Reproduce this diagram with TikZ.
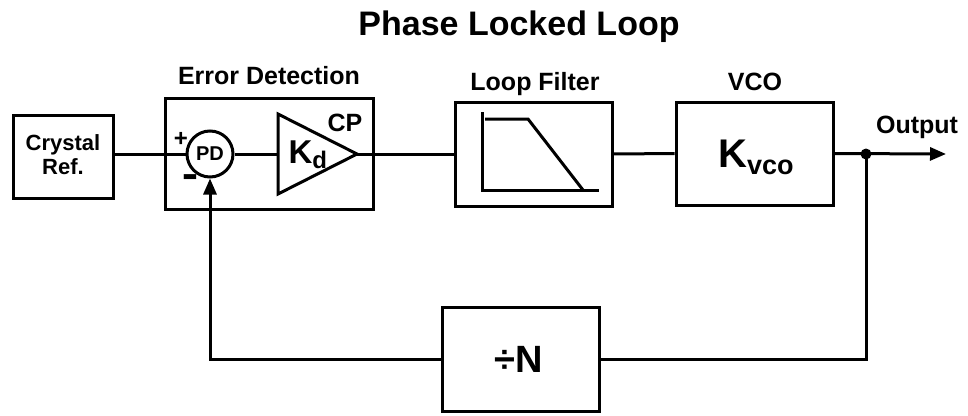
\documentclass[tikz,border=0pt]{standalone}
\usepackage{fontspec}
\setmainfont{Liberation Sans}
\usetikzlibrary{arrows.meta}
\newcommand{\fs}[1]{\fontsize{#1}{#1}\selectfont}
\begin{document}
\begin{tikzpicture}[x=1pt,y=-1pt,
  line width=3pt,
  blk/.style={draw,rectangle,inner sep=0pt,line width=3pt},
  lbl/.style={inner sep=0pt,font=\bfseries\fs{25}},
  wire/.style={draw,line width=3pt},
  arr/.style={-{Triangle[length=16pt,width=13pt]}}
]
\useasboundingbox (0,0) rectangle (968,415);
% title
\node[inner sep=0pt,anchor=base,font=\bfseries\fs{34}] (title) at (519,35) {Phase Locked Loop};
% blocks
\node[blk,minimum width=100pt,minimum height=83pt] (cr) at (63,156.5) {};
\node[inner sep=0pt,anchor=base,font=\bfseries\fs{22}] (crt1) at (63,150) {Crystal};
\node[inner sep=0pt,anchor=base,font=\bfseries\fs{22}] (crt2) at (63,174) {Ref.};
\node[blk,minimum width=208pt,minimum height=111pt] (ed) at (269,153.5) {};
\node[lbl,anchor=base] (edl) at (269,84) {Error Detection};
\node[blk,circle,minimum size=46pt,font=\bfseries\fs{20}] (pd) at (210,154) {PD};
\node[inner sep=0pt,font=\bfseries\fs{24}] (plus) at (181,139) {+};
\node[inner sep=0pt,font=\bfseries\fs{25}] (minus) at (190,183) {\scalebox{1}[2]{\textendash}};
% amplifier
\coordinate (ampin) at (278,154);
\coordinate (ampout) at (357,154);
\draw[line width=3pt,line join=miter] (278,114) -- (ampout) -- (278,194) -- cycle;
\node[inner sep=0pt,anchor=base west,font=\bfseries\fs{33}] (kd) at (287,163) {K\raisebox{-5pt}{\fs{24}d}};
\node[inner sep=0pt,anchor=base,font=\bfseries\fs{25}] (cp) at (345,131) {CP};
% loop filter
\node[blk,minimum width=157pt,minimum height=104pt] (lf) at (533.5,154) {};
\node[lbl,anchor=base] (lfl) at (535,90) {Loop Filter};
\draw[line width=3pt] (482,112) -- (482,190) -- (599,190);
\draw[line width=3pt] (485,119) -- (528,119) -- (583,190);
% VCO
\node[blk,minimum width=157pt,minimum height=103pt] (vco) at (754.5,153.5) {};
\node[lbl,anchor=base] (vcol) at (755,90) {VCO};
\node[inner sep=0pt,anchor=base,font=\bfseries\fs{40}] (kv) at (756,167) {K\raisebox{-7pt}{\fs{27}vco}};
% divider
\node[blk,minimum width=157pt,minimum height=104pt] (div) at (520.5,359) {};
\node[inner sep=0pt,anchor=base,font=\bfseries\fs{38}] (divt) at (519,372) {÷N};
% output
\coordinate (j) at (866,154);
\coordinate (out) at (946,154);
\node[lbl,anchor=base] (outl) at (917,133) {Output};
% connectors
\draw (pd.west -| cr.east) -- (pd.west);
\draw (pd.east) -- (ampin);
\draw (ampout) -- (lf.west);
\draw (lf.east) -- (vco.west);
\draw[arr] (vco.east) -- (out);
\fill (j) circle (5.5pt);
\draw (j) |- (div.east);
\draw[arr] (div.west) -| (pd.south);
\end{tikzpicture}
\end{document}
